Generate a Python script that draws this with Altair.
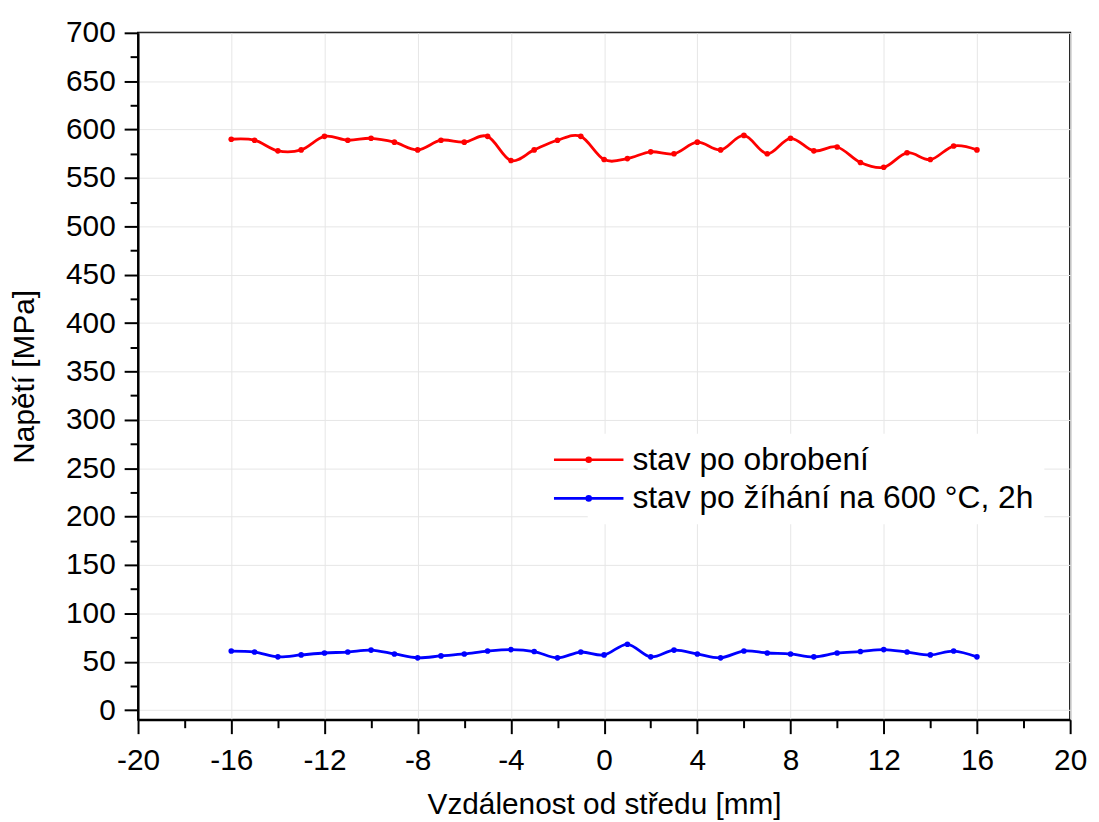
import altair as alt
import pandas as pd

x_vals = list(range(-16, 17))
red_vals = [590, 589, 578, 579, 593, 589, 591, 587, 579, 589, 587, 593, 568, 579, 589, 593, 569,
            570, 577, 575, 587, 579, 594, 575, 591, 578, 582, 566, 561, 576, 569, 583, 579]
blue_vals = [61, 60, 55, 57, 59, 60, 62, 58, 54, 56, 58, 61, 62.5, 60.5, 54, 60, 57,
             68, 55, 62, 58, 54, 61, 59, 58, 55, 59, 60.5, 62.5, 60, 57, 61, 55]
series_names = ["stav po obrobení", "stav po žíhání na 600 °C, 2h"]
series_colors = ["#ff0000", "#0000ff"]
x_ticks = list(range(-20, 21, 2))
y_ticks = list(range(0, 701, 25))

df = pd.concat([
    pd.DataFrame({"x": x_vals, "y": red_vals, "s": series_names[0]}),
    pd.DataFrame({"x": x_vals, "y": blue_vals, "s": series_names[1]}),
])

FONT = "Liberation Sans"
# legend symbol: a 70px line with a dot in its middle (unit = 10px, slot = 20px)
r = 0.2
c = -2.5
sym = f"M-6,0L1,0M{c - r},0A{r},{r},0,1,1,{c + r},0A{r},{r},0,1,1,{c - r},0Z"

x_axis = alt.Axis(
    values=x_ticks,
    title="Vzdálenost od středu [mm]",
    tickSize={"condition": {"test": "datum.value % 4 === 0", "value": 14}, "value": 8},
    gridOpacity={"condition": {"test": "datum.value % 4 === 0", "value": 1}, "value": 0},
    labelExpr="datum.value % 4 === 0 ? '' + datum.value : ''",
    labelFlush=False,
    labelOverlap=False,
    labelPadding=12,
    titlePadding=14,
)
y_axis = alt.Axis(
    values=y_ticks,
    title="Napětí [MPa]",
    tickSize={"condition": {"test": "datum.value % 50 === 0", "value": 14}, "value": 8},
    gridOpacity={"condition": {"test": "datum.value % 50 === 0", "value": 1}, "value": 0},
    labelExpr="datum.value % 50 === 0 ? '' + datum.value : ''",
    labelOverlap=False,
    labelFlush=False,
    labelPadding=9,
    titlePadding=26,
)

chart = alt.Chart(df).mark_line(
    interpolate="cardinal", strokeWidth=2.8,
    point=alt.OverlayMarkDef(size=32, filled=True, opacity=1),
).encode(
    x=alt.X("x:Q", scale=alt.Scale(domain=[-20, 20], nice=False, zero=False), axis=x_axis),
    y=alt.Y("y:Q", scale=alt.Scale(domain=[-10, 700], nice=False, zero=False), axis=y_axis),
    color=alt.Color(
        "s:N",
        scale=alt.Scale(domain=series_names, range=series_colors),
        legend=alt.Legend(
            title=None, orient="none", legendX=453, legendY=404,
            fillColor="white", padding=10,
            symbolType=sym, symbolSize=400, symbolStrokeWidth=2.6,
            labelFont=FONT, labelFontSize=32, labelColor="black", labelOffset=3,
            labelLimit=0, rowPadding=7,
        ),
    ),
).properties(
    width=939, height=692,
    padding={"left": 131, "top": 22, "right": 21, "bottom": 100},
    autosize=alt.AutoSizeParams(type="none"),
).configure_view(
    stroke="black", strokeWidth=2,
).configure_axis(
    domainColor="black", domainWidth=2, tickColor="black", tickWidth=2,
    labelFont=FONT, labelFontSize=30, labelColor="black",
    titleFont=FONT, titleFontSize=30, titleFontWeight="normal", titleColor="black",
    gridColor="#e6e6e6", gridWidth=1,
)

chart.save("out.html", embed_options={"renderer": "svg", "actions": False})
